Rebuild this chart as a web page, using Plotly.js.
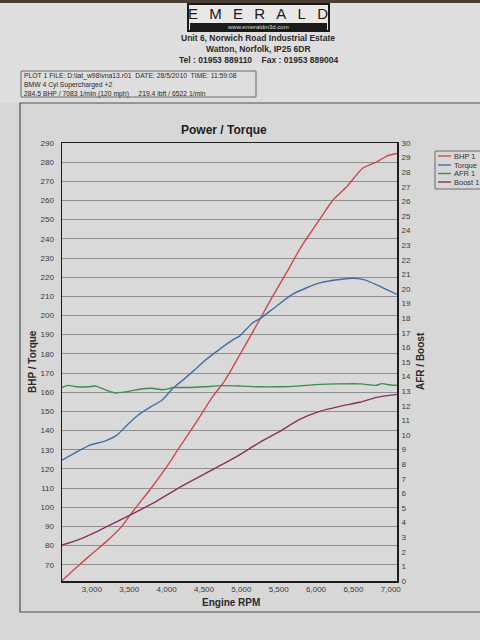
<!DOCTYPE html>
<html>
<head>
<meta charset="utf-8">
<script src="https://cdn.plot.ly/plotly-3.0.1.min.js"></script>
<style>
html,body{margin:0;padding:0;background:#d6d6d6;}
#chart{width:480px;height:640px;}
</style>
</head>
<body>
<div id="chart"></div>
<script>
// ---- Data ----
const seriesNames = ["BHP 1", "Torque", "AFR 1", "Boost 1"];

const bhpRpm = [2600, 2800, 3000, 3200, 3400, 3536, 3800, 4000, 4151, 4400, 4600, 4779, 5000, 5252, 5400, 5608, 5800, 5956, 6100, 6223, 6410, 6624, 6811, 6945, 7083];
const bhpVal = [61.7, 68.8, 75.7, 82.3, 90.0, 97.2, 110.3, 121.0, 130.0, 144.5, 156.8, 166.0, 180.9, 198.3, 208.7, 222.6, 235.8, 244.9, 253.2, 260.0, 267.2, 276.8, 280.1, 283.2, 284.5];

const torqueRpm = [2600, 2774, 2974, 3175, 3335, 3469, 3616, 3803, 3937, 4084, 4244, 4400, 4512, 4712, 4913, 4980, 5153, 5247, 5421, 5688, 6050, 6316, 6522, 6650, 6811, 6985, 7083];
const torqueVal = [124.5, 128.3, 132.4, 134.5, 137.6, 142.8, 148.0, 152.7, 155.8, 162.0, 167.2, 172.5, 176.5, 182.5, 187.9, 189.4, 196.2, 198.3, 203.4, 211.2, 217.0, 218.8, 219.4, 218.6, 216.0, 212.8, 211.0];

const afrRpm = [2600, 2680, 2800, 2950, 3050, 3200, 3310, 3450, 3600, 3800, 3950, 4100, 4300, 4500, 4750, 5000, 5250, 5500, 5750, 6000, 6300, 6600, 6800, 6880, 7000, 7083];
const afrVal = [13.25, 13.4, 13.3, 13.3, 13.35, 13.05, 12.88, 12.95, 13.1, 13.2, 13.1, 13.25, 13.25, 13.3, 13.38, 13.35, 13.3, 13.3, 13.35, 13.45, 13.5, 13.5, 13.4, 13.52, 13.42, 13.4];

const boostRpm = [2600, 2840, 3081, 3349, 3536, 3843, 4204, 4552, 4712, 4913, 5247, 5514, 5781, 6048, 6316, 6583, 6811, 7083];
const boostVal = [2.46, 2.87, 3.42, 4.1, 4.58, 5.4, 6.5, 7.45, 7.9, 8.45, 9.5, 10.25, 11.07, 11.62, 11.96, 12.24, 12.58, 12.78];

const leftTicks = [70, 80, 90, 100, 110, 120, 130, 140, 150, 160, 170, 180, 190, 200, 210, 220, 230, 240, 250, 260, 270, 280, 290];
const rightTicks = [0,1,2,3,4,5,6,7,8,9,10,11,12,13,14,15,16,17,18,19,20,21,22,23,24,25,26,27,28,29,30];
const rpmTicks = [3000, 3500, 4000, 4500, 5000, 5500, 6000, 6500, 7000];

const colors = ["#d24848", "#3f6ea8", "#3d8d4e", "#8c2f5e"];

// ---- geometry helpers (pixel -> paper) ----
const W = 480, H = 640, L = 62, R = 83, T = 143, B = 59;
const pw = W - L - R, ph = H - T - B;
const fx = x => (x - L) / pw;
const fy = y => (H - B - y) / ph;

const font = "Liberation Sans, Arial, sans-serif";

const traces = [
  {x: bhpRpm, y: bhpVal, yaxis: "y", name: seriesNames[0]},
  {x: torqueRpm, y: torqueVal, yaxis: "y", name: seriesNames[1]},
  {x: afrRpm, y: afrVal, yaxis: "y2", name: seriesNames[2]},
  {x: boostRpm, y: boostVal, yaxis: "y2", name: seriesNames[3]}
].map((t, i) => Object.assign(t, {
  type: "scatter", mode: "lines", line: {color: colors[i], width: 1.4, shape: "spline", smoothing: 0.6},
  showlegend: false, hoverinfo: "skip"
}));

function ann(x, y, text, size, opts) {
  return Object.assign({
    xref: "paper", yref: "paper", x: fx(x), y: fy(y), text: text, showarrow: false,
    xanchor: "center", yanchor: "middle",
    font: {family: font, size: size, color: "#2a2a2a"}
  }, opts || {});
}
function rect(x0, y0, x1, y1, opts) {
  return Object.assign({
    type: "rect", xref: "paper", yref: "paper",
    x0: fx(x0), x1: fx(x1), y0: fy(y0), y1: fy(y1), layer: "below"
  }, opts || {});
}
function line(x0, y0, x1, y1, color, width) {
  return {type: "line", xref: "paper", yref: "paper", x0: fx(x0), x1: fx(x1), y0: fy(y0), y1: fy(y1),
          line: {color: color, width: width}};
}

const shapes = [
  rect(0, 0, 480, 103, {fillcolor: "#dedede", line: {width: 0}}),
  rect(0, 0, 480, 3, {fillcolor: "#4a3d34", line: {width: 0}}),
  // logo
  rect(188, 4, 329, 31, {fillcolor: "#e8e8e8", line: {color: "#1a1a1a", width: 2}, layer: "above"}),
  rect(190, 23, 327, 30, {fillcolor: "#1c1c1c", line: {width: 0}, layer: "above"}),
  // info box
  rect(21, 71, 256, 97, {fillcolor: "rgba(0,0,0,0)", line: {color: "#6a6a6a", width: 1}, layer: "above"}),
  // page frame
  rect(20, 103, 486, 612, {fillcolor: "rgba(0,0,0,0)", line: {color: "#505050", width: 1.2}, layer: "above"}),
  // legend box
  rect(435, 151, 486, 189, {fillcolor: "rgba(0,0,0,0)", line: {color: "#6a6a6a", width: 1}, layer: "above"})
];

const legendY = [156, 165, 173.5, 182];
seriesNames.forEach((n, i) => {
  shapes.push(line(438, legendY[i], 451, legendY[i], colors[i], 1.4));
});

const annotations = [
  ann(258, 14, "E\u2002\u2005M\u2002\u2005E\u2002\u2005R\u2002\u2005A\u2002\u2005L\u2002\u2005D", 15, {font: {family: font, size: 15, color: "#1a1a1a"}}),
  ann(258, 26.5, "www.emeraldm3d.com", 6, {font: {family: font, size: 6, color: "#dddddd"}}),
  ann(258, 38, "<b>Unit 6, Norwich Road Industrial Estate</b>", 8.5),
  ann(258, 49, "<b>Watton, Norfolk, IP25 6DR</b>", 8.5),
  ann(258, 60, "<b>Tel : 01953 889110    Fax : 01953 889004</b>", 8.5),
  ann(23, 85, "PLOT 1 FILE: D:\\lat_w98\\vna13.r01  DATE: 28/5/2010  TIME: 11:59:08<br>BMW 4 Cyl Supercharged +2<br>284.5 BHP / 7083 1/min (120 mph)     219.4 lbft / 6522 1/min",
      6.8, {xanchor: "left", align: "left", borderpad: 0}),
  ann(224, 130, "<b>Power / Torque</b>", 12, {font: {family: font, size: 12, color: "#1e1e1e"}}),
  ann(32, 362, "<b>BHP / Torque</b>", 10, {textangle: -90}),
  ann(420, 361, "<b>AFR / Boost</b>", 10, {textangle: -90}),
  ann(231, 602, "<b>Engine RPM</b>", 10, {borderpad: 0})
];
seriesNames.forEach((n, i) => {
  annotations.push(ann(453, legendY[i], n, 7.5, {xanchor: "left", borderpad: 0, font: {family: font, size: 7.5, color: "#333"}}));
});

const layout = {
  width: W, height: H,
  margin: {l: L, r: R, t: T, b: B, pad: 0},
  paper_bgcolor: "#d7d7d7",
  plot_bgcolor: "#d9d9da",
  font: {family: font, color: "#333"},
  showlegend: false,
  xaxis: {
    range: [2600, 7083], tickvals: rpmTicks, tickformat: ",d",
    showgrid: false, zeroline: false,
    showline: true, linecolor: "#1e1e1e", linewidth: 1.5, mirror: true,
    ticks: "", 
    tickfont: {family: font, size: 8, color: "#3a3a3a"}
  },
  yaxis: {
    range: [61.5, 290], tickvals: leftTicks,
    showgrid: true, gridcolor: "#8e8e8e", gridwidth: 1, zeroline: false,
    showline: true, linecolor: "#1e1e1e", linewidth: 1.5, mirror: true,
    ticks: "outside", ticklen: 5, tickcolor: "rgba(0,0,0,0)",
    tickfont: {family: font, size: 8, color: "#3a3a3a"}
  },
  yaxis2: {
    range: [0, 30], tickvals: rightTicks, overlaying: "y", side: "right",
    showgrid: false, zeroline: false, showline: false,
    ticks: "outside", ticklen: 2, tickcolor: "rgba(0,0,0,0)",
    tickfont: {family: font, size: 8, color: "#3a3a3a"}
  },
  shapes: shapes,
  annotations: annotations
};

Plotly.newPlot("chart", traces, layout, {displayModeBar: false, staticPlot: true});
</script>
</body>
</html>
